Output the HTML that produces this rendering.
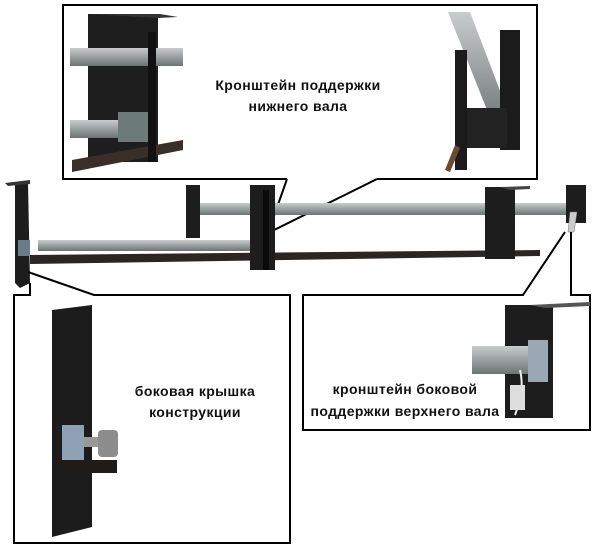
<!DOCTYPE html>
<html><head><meta charset="utf-8"><style>
html,body{margin:0;padding:0;background:#fff;width:600px;height:549px;overflow:hidden}
svg{display:block}
text{font-family:"Liberation Sans","DejaVu Sans",sans-serif;font-weight:bold;font-size:14px;fill:#111;letter-spacing:0.4px}
</style></head><body>
<svg width="600" height="549" viewBox="0 0 600 549">
<defs>
<linearGradient id="g" x1="0" y1="0" x2="0" y2="1"><stop offset="0" stop-color="#c8cccc"/><stop offset="0.5" stop-color="#9a9fa0"/><stop offset="1" stop-color="#6e7374"/></linearGradient>
</defs>
<!-- top callout box -->
<path d="M287,179 H63 V5 H537 V179 H377" fill="none" stroke="#000" stroke-width="2"/>
<path d="M287,179 L268,233 L377,179" fill="none" stroke="#000" stroke-width="2"/>
<!-- top box photos -->
<rect x="88" y="14" width="70" height="148" fill="#1e1e1e"/>
<polygon points="88,14 160,14 178,17 158,18" fill="#333"/>
<rect x="70" y="48" width="113" height="18" fill="url(#g)"/>
<rect x="70" y="120" width="60" height="18" fill="url(#g)"/>
<polygon points="72,160 183,140 183,150 72,172" fill="#3a2e28"/>
<rect x="148" y="32" width="8" height="130" fill="#111"/>
<rect x="118" y="112" width="30" height="30" fill="#6c7a78"/>
<polygon points="448,12 470,12 515,130 495,130" fill="url(#g)"/>
<rect x="500" y="30" width="20" height="120" fill="#1b1b1b"/>
<rect x="455" y="50" width="12" height="120" fill="#1b1b1b"/>
<rect x="467" y="108" width="40" height="40" fill="#222"/>
<polygon points="445,170 455,145 460,148 450,172" fill="#6b4a30"/>
<text x="298" y="90" text-anchor="middle">Кронштейн поддержки</text>
<text x="298" y="111" text-anchor="middle">нижнего вала</text>
<!-- main assembly -->
<polygon points="15,183 28,183 30,283 20,288 15,283" fill="#1d1d1d"/>
<polygon points="5,183 30,180 30,184 8,186" fill="#333"/>
<rect x="38" y="240" width="222" height="11" fill="url(#g)"/>
<rect x="18" y="240" width="12" height="16" fill="#6a7b8a"/>
<polygon points="30,255 540,250 540,256 30,264" fill="#2a2624"/>
<rect x="186" y="185" width="14" height="53" fill="#1d1d1d"/>
<rect x="200" y="203" width="380" height="12" fill="url(#g)"/>
<rect x="250" y="185" width="25" height="85" fill="#1d1d1d"/>
<rect x="263" y="190" width="6" height="80" fill="#0b0b0b"/>
<rect x="485" y="187" width="30" height="72" fill="#1d1d1d"/>
<polygon points="500,187 530,186 530,189 510,190" fill="#444"/>
<rect x="566" y="185" width="20" height="38" fill="#1d1d1d"/>
<polygon points="570,212 577,212 574,232 568,232" fill="#ccc" stroke="#777" stroke-width="0.5"/>
<!-- bottom-left callout -->
<path d="M30,283 V295 H14 V543 H290 V295 H94 L28,272" fill="none" stroke="#000" stroke-width="2"/>
<polygon points="52,310 92,305 92,527 52,537" fill="#1c1c1c"/>
<rect x="62" y="425" width="22" height="38" fill="#8fa2b5"/>
<rect x="84" y="437" width="16" height="10" fill="#999"/>
<rect x="98" y="430" width="20" height="27" rx="4" fill="#8d8d8d"/>
<rect x="60" y="460" width="57" height="13" fill="#1f1b18"/>
<text x="195" y="396" text-anchor="middle">боковая крышка</text>
<text x="195" y="417" text-anchor="middle">конструкции</text>
<!-- bottom-right callout -->
<path d="M565,232 L523,295 H303 V430 H590 V295 H571 V232" fill="none" stroke="#000" stroke-width="2"/>
<rect x="505" y="305" width="48" height="113" fill="#1d1d1d"/>
<polygon points="530,305 590,302 590,306 545,308" fill="#555"/>
<rect x="472" y="346" width="58" height="28" fill="url(#g)"/>
<rect x="528" y="340" width="20" height="42" fill="#9aa8b5"/>
<path d="M520,370 Q525,390 515,415" fill="none" stroke="#eee" stroke-width="2"/>
<rect x="510" y="385" width="15" height="25" fill="#ddd"/>
<text x="405" y="394" text-anchor="middle">кронштейн боковой</text>
<text x="405" y="416" text-anchor="middle">поддержки верхнего вала</text>
</svg>
</body></html>
